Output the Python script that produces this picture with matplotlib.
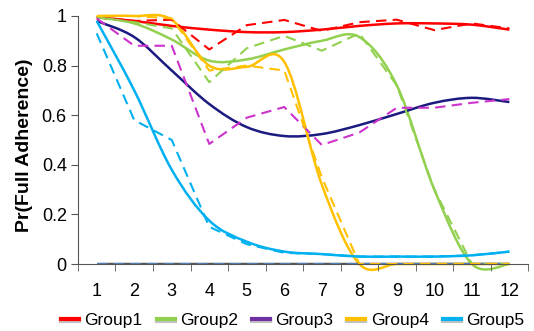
import matplotlib
matplotlib.use("Agg")
import matplotlib.pyplot as plt
import matplotlib.patheffects as pe
from matplotlib.path import Path
from matplotlib.patches import PathPatch
from matplotlib.lines import Line2D
import numpy as np

plt.rcParams['font.family'] = ['Liberation Sans', 'DejaVu Sans']

weeks = list(range(1, 13))

# smooth = fitted (solid), raw = observed (dashed)
g1_fit = [0.995, 0.98, 0.96, 0.945, 0.935, 0.935, 0.945, 0.96, 0.97, 0.97, 0.965, 0.945]
g1_obs = [0.995, 0.98, 0.985, 0.865, 0.963, 0.984, 0.94, 0.975, 0.985, 0.943, 0.97, 0.95]
g2_fit = [0.995, 0.97, 0.905, 0.82, 0.825, 0.865, 0.9, 0.915, 0.72, 0.3, 0.0, 0.0]
g2_obs = [0.995, 0.975, 0.95, 0.733, 0.87, 0.92, 0.86, 0.93, 0.72, 0.3, 0.0, 0.0]
g3_fit = [0.98, 0.915, 0.78, 0.645, 0.552, 0.516, 0.524, 0.56, 0.605, 0.65, 0.67, 0.653]
g3_obs = [0.99, 0.88, 0.88, 0.484, 0.59, 0.633, 0.48, 0.53, 0.63, 0.63, 0.65, 0.665]
g4_fit = [1.0, 1.0, 0.985, 0.8, 0.795, 0.815, 0.32, 0.0, 0.0, 0.0, 0.0, 0.0]
g4_obs = [1.0, 1.0, 0.99, 0.78, 0.8, 0.78, 0.35, 0.0, 0.0, 0.0, 0.0, 0.0]
g5_fit = [0.98, 0.70, 0.38, 0.175, 0.09, 0.05, 0.04, 0.03, 0.03, 0.03, 0.035, 0.05]
g5_obs = [0.93, 0.58, 0.5, 0.15, 0.08, 0.045, 0.04, 0.03, 0.03, 0.03, 0.035, 0.05]
zero_line = [0.0] * 12

groups = ['Group1', 'Group2', 'Group3', 'Group4', 'Group5']
legend_colors = ['#FF0000', '#92D050', '#7030A0', '#FFC000', '#00B0F0']


def smooth_path(xs, ys):
    # Catmull-Rom style bezier, like a spreadsheet "smoothed line"
    xs = np.asarray(xs, float)
    ys = np.asarray(ys, float)
    pts = np.column_stack([xs, ys])
    n = len(pts)
    verts = [pts[0]]
    codes = [Path.MOVETO]
    for i in range(n - 1):
        p0 = pts[i - 1] if i > 0 else pts[i]
        p1 = pts[i]
        p2 = pts[i + 1]
        p3 = pts[i + 2] if i + 2 < n else pts[i + 1]
        c1 = p1 + (p2 - p0) / 6.0
        c2 = p2 - (p3 - p1) / 6.0
        verts += [c1, c2, p2]
        codes += [Path.CURVE4] * 3
    return Path(verts, codes)


fig = plt.figure(figsize=(5.34, 3.31), dpi=100)
ax = fig.add_axes([0.146, 0.2024, 0.843, 0.7493])

ax.plot(weeks, zero_line, color='#555555', lw=2.5, solid_capstyle='butt')
ax.plot(weeks, zero_line, color='#4F81BD', lw=1.5, dashes=(5, 3))

fits = [(g1_fit, '#FF0000'), (g2_fit, '#92D050'), (g3_fit, '#1A1A80'),
        (g4_fit, '#FFC000'), (g5_fit, '#00B0F0')]
obs = [(g1_obs, '#FF0000'), (g2_obs, '#92D050'), (g3_obs, '#CC33CC'),
       (g4_obs, '#FFC000'), (g5_obs, '#00B0F0')]

for ys, c in obs:
    ax.plot(weeks, ys, color=c, lw=1.5, dashes=(5, 3))
for ys, c in fits:
    ax.add_patch(PathPatch(smooth_path(weeks, ys), fill=False, edgecolor=c,
                           lw=1.8, clip_on=False))

ax.set_xlim(0.5, 12.5)
ax.set_ylim(0, 1)
ax.set_yticks([0, 0.2, 0.4, 0.6, 0.8, 1.0])
ax.set_yticklabels(['0', '0.2', '0.4', '0.6', '0.8', '1'])
ax.set_xticks(weeks)
ax.set_xticks(np.arange(0.5, 13, 1), minor=True)
ax.tick_params(axis='x', which='major', length=0, pad=14, labelsize=13)
ax.tick_params(axis='x', which='minor', length=5, color='#555555')
ax.tick_params(axis='y', length=5, color='#555555', labelsize=13, pad=3)
for s in ['top', 'right']:
    ax.spines[s].set_visible(False)
ax.spines['left'].set_color('#555555')
ax.spines['bottom'].set_color('#555555')
ax.set_ylabel('Pr(Full Adherence)', fontsize=14, fontweight='bold')
ax.yaxis.set_label_coords(-0.10, 0.48)

shadow = [pe.SimpleLineShadow(offset=(0, -2), shadow_color='#888888', alpha=0.5), pe.Normal()]
handles = [Line2D([], [], color=c, lw=3, path_effects=shadow) for c in legend_colors]
fig.legend(handles, groups, loc='center', bbox_to_anchor=(0.548, 0.033), ncol=5,
           frameon=False, fontsize=12.5, handlelength=1.05, handletextpad=0.3,
           columnspacing=0.8, borderaxespad=0, borderpad=0)

fig.savefig('out.png', dpi=100)
